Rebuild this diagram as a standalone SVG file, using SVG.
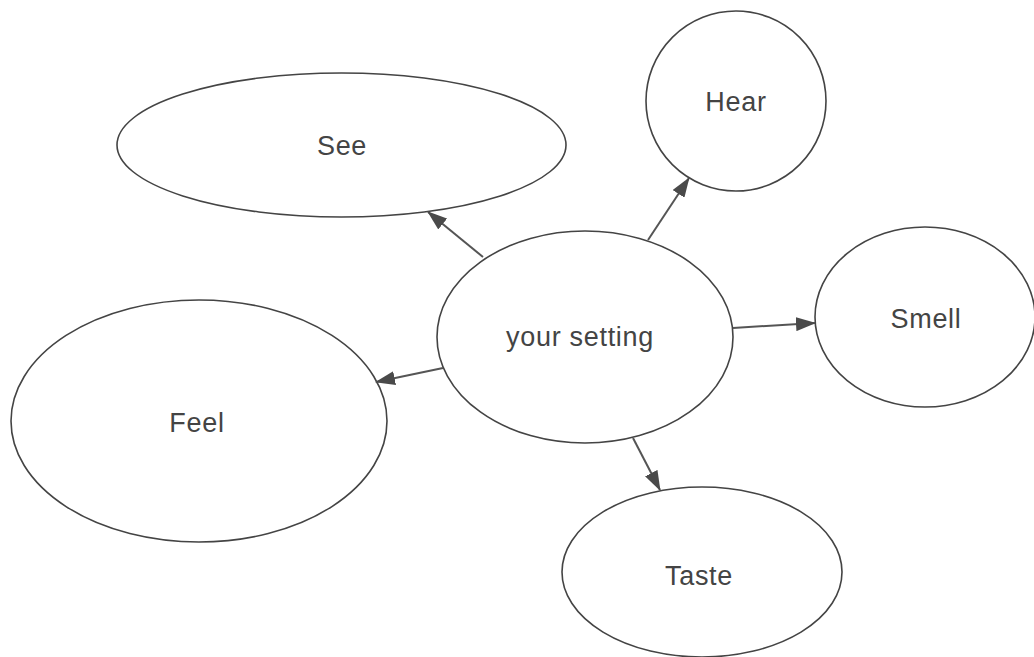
<svg xmlns="http://www.w3.org/2000/svg" width="1034" height="657" viewBox="0 0 1034 657">
<style>
.n{fill:#fff;stroke:#444;stroke-width:1.6}
.t{font-family:"Liberation Sans",Arial,sans-serif;font-size:27px;fill:#444;text-anchor:middle;letter-spacing:0.7px}
.c{stroke:#555;stroke-width:2;fill:none}
</style>
<defs>
<marker id="ah" markerWidth="20" markerHeight="14" refX="19" refY="7" orient="auto" markerUnits="userSpaceOnUse" viewBox="0 0 20 14">
<path d="M0,0 L20,7 L0,14 Z" fill="#4a4a4a"/>
</marker>
</defs>
<rect width="1034" height="657" fill="#fff"/>
<g id="see"><ellipse class="n" cx="341.5" cy="145" rx="224.5" ry="72"/><text class="t" x="342" y="155">See</text></g>
<g id="hear"><circle class="n" cx="736" cy="101" r="90"/><text class="t" x="736" y="111">Hear</text></g>
<g id="smell"><ellipse class="n" cx="925" cy="317" rx="110" ry="90"/><text class="t" x="926" y="328">Smell</text></g>
<g id="feel"><ellipse class="n" cx="199" cy="421" rx="188" ry="121"/><text class="t" x="197" y="432">Feel</text></g>
<g id="taste"><ellipse class="n" cx="702" cy="572" rx="140" ry="85"/><text class="t" x="699" y="585">Taste</text></g>
<g id="setting"><ellipse class="n" cx="585" cy="337" rx="148" ry="106"/><text class="t" x="580" y="346">your setting</text></g>
<g id="connectors">
<line class="c" x1="483" y1="257" x2="428" y2="212" marker-end="url(#ah)"/>
<line class="c" x1="648" y1="240" x2="689" y2="178" marker-end="url(#ah)"/>
<line class="c" x1="733" y1="328" x2="815" y2="323" marker-end="url(#ah)"/>
<line class="c" x1="443" y1="368" x2="376" y2="382" marker-end="url(#ah)"/>
<line class="c" x1="633" y1="438" x2="660" y2="490" marker-end="url(#ah)"/>
</g>
</svg>
